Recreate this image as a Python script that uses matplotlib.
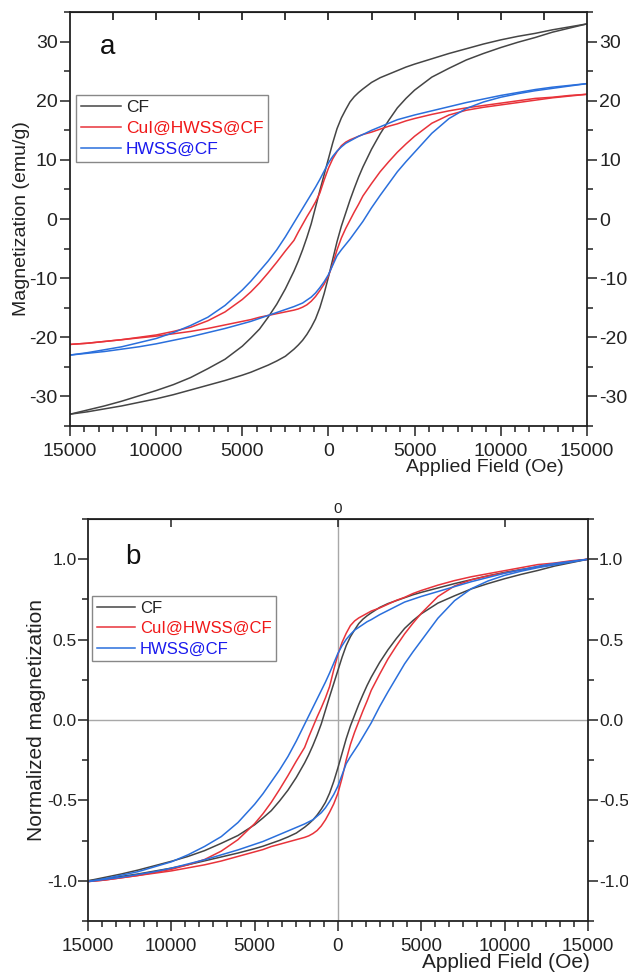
import numpy as np
import matplotlib
matplotlib.use("Agg")
import matplotlib.pyplot as plt
from matplotlib.ticker import AutoMinorLocator, MultipleLocator, FuncFormatter

plt.rcParams['font.family'] = ['Liberation Sans', 'DejaVu Sans']
plt.rcParams['axes.unicode_minus'] = False

# field sweep from +15 kOe down to -15 kOe, Oe
field_down = [15000, 14000, 13000, 12000, 11000, 10000, 9000, 8000, 7000, 6000, 5000,
              4500, 4000, 3500, 3000, 2500, 2000, 1750, 1500, 1250, 1000, 750, 500, 250, 0,
              -250, -500, -750, -1000, -1250, -1500, -1750, -2000, -2500, -3000, -3500, -4000, -4500,
              -5000, -6000, -7000, -8000, -9000, -10000, -11000, -12000, -13000, -14000, -15000]
# return sweep, -15 kOe up to +15 kOe
field_up = field_down[::-1]

# magnetization, emu/g
cf_down = [33.0, 32.5, 32.0, 31.4, 30.9, 30.3, 29.6, 28.8, 28.0, 27.1, 26.2,
           25.7, 25.1, 24.5, 23.9, 23.1, 22.0, 21.4, 20.7, 19.8, 18.5, 17.1, 15.3, 12.9, 10.2,
           7.5, 4.8, 2.0, -0.8, -3.1, -5.2, -7.1, -8.8, -11.8, -14.4, -16.6, -18.6, -20.1,
           -21.5, -23.7, -25.3, -26.8, -28.0, -29.0, -29.9, -30.8, -31.6, -32.3, -33.0]
cf_up = [-33.0, -32.6, -32.1, -31.6, -31.0, -30.4, -29.7, -28.9, -28.1, -27.3, -26.4,
         -25.9, -25.3, -24.7, -24.0, -23.2, -22.0, -21.3, -20.5, -19.5, -18.3, -16.9, -15.0, -12.6, -9.8,
         -6.8, -3.8, -1.2, 1.0, 3.2, 5.2, 7.1, 8.8, 11.8, 14.4, 16.7, 18.8, 20.4,
         21.8, 24.0, 25.5, 26.9, 28.0, 29.0, 29.9, 30.7, 31.6, 32.3, 33.0]

cui_down = [21.1, 20.9, 20.6, 20.4, 20.0, 19.6, 19.2, 18.8, 18.3, 17.7, 17.0,
            16.6, 16.1, 15.7, 15.2, 14.7, 14.3, 14.0, 13.7, 13.4, 13.0, 12.4, 11.4, 10.2, 8.6,
            6.6, 4.4, 2.9, 1.6, 0.4, -0.9, -2.2, -3.6, -5.4, -7.3, -9.1, -10.8, -12.3,
            -13.6, -15.7, -17.2, -18.3, -19.0, -19.6, -20.0, -20.4, -20.7, -21.0, -21.2]
cui_up = [-21.2, -21.0, -20.7, -20.4, -20.1, -19.8, -19.4, -19.0, -18.5, -17.9, -17.3,
          -17.0, -16.6, -16.3, -16.0, -15.7, -15.4, -15.2, -14.9, -14.5, -13.9, -13.1, -12.1, -11.0, -9.6,
          -7.6, -5.2, -3.2, -1.6, -0.2, 1.2, 2.5, 3.9, 6.0, 8.0, 9.7, 11.3, 12.7,
          14.0, 16.2, 17.6, 18.4, 18.9, 19.3, 19.7, 20.1, 20.5, 20.8, 21.1]

hwss_down = [22.9, 22.6, 22.3, 21.9, 21.4, 20.9, 20.3, 19.7, 19.0, 18.3, 17.6,
             17.2, 16.8, 16.2, 15.6, 15.0, 14.3, 14.0, 13.6, 13.2, 12.8, 12.2, 11.5, 10.6, 9.5,
             8.1, 6.7, 5.4, 4.2, 3.0, 1.8, 0.6, -0.6, -3.0, -5.2, -7.1, -8.8, -10.5,
             -12.0, -14.6, -16.6, -18.0, -19.2, -20.2, -20.9, -21.6, -22.1, -22.6, -23.0]
hwss_up = [-23.0, -22.7, -22.4, -22.0, -21.6, -21.1, -20.5, -19.9, -19.2, -18.5, -17.7,
           -17.3, -16.8, -16.3, -15.8, -15.3, -14.8, -14.5, -14.2, -13.7, -13.2, -12.5, -11.6, -10.6, -9.4,
           -7.8, -6.2, -5.2, -4.3, -3.4, -2.4, -1.4, -0.4, 1.9, 4.0, 6.0, 8.0, 9.7,
           11.3, 14.5, 17.0, 18.7, 19.8, 20.6, 21.2, 21.7, 22.1, 22.5, 22.9]

labels = ['CF', 'CuI@HWSS@CF', 'HWSS@CF']
line_colors = ['#454545', '#e8333a', '#2a6fdc']
text_colors = ['#222222', '#f01818', '#1a1aee']
loops = [(cf_down, cf_up), (cui_down, cui_up), (hwss_down, hwss_up)]

fig = plt.figure(figsize=(6.28, 9.74), dpi=100)


def style_axes(ax, minor_y, lsize):
    for s in ax.spines.values():
        s.set_linewidth(1.3)
        s.set_color('#222222')
    ax.set_xlim(-15000, 15000)
    ax.xaxis.set_major_locator(MultipleLocator(5000))
    ax.xaxis.set_minor_locator(AutoMinorLocator(6))
    ax.xaxis.set_major_formatter(FuncFormatter(lambda v, p: f"{abs(v):.0f}"))
    ax.yaxis.set_minor_locator(MultipleLocator(minor_y))
    ax.tick_params(which='both', direction='out', top=False, right=True, labelright=True,
                   width=1.1, colors='#222222', labelsize=lsize, labelcolor='#222222')
    ax.tick_params(which='major', length=7, pad=2)
    ax.tick_params(which='minor', length=4)
    ax.tick_params(axis='x', which='major', pad=5)


def add_legend(ax, anchor, size):
    leg = ax.legend(loc='upper left', bbox_to_anchor=anchor, borderaxespad=0, fontsize=size,
                    frameon=True, fancybox=False, edgecolor='#888888', framealpha=1,
                    handlelength=2.3, handletextpad=0.3, labelspacing=0.33, borderpad=0.28)
    leg.get_frame().set_linewidth(1.0)
    for t, c in zip(leg.get_texts(), text_colors):
        t.set_color(c)


# panel a
ax1 = fig.add_axes([0.1115, 0.5626, 0.823, 0.425])
for (down, up), lab, col in zip(loops, labels, line_colors):
    ax1.plot(field_down, down, color=col, lw=1.1, label=lab)
    ax1.plot(field_up, up, color=col, lw=1.1)
ax1.set_ylim(-35, 35)
ax1.yaxis.set_major_locator(MultipleLocator(10))
style_axes(ax1, 5, 14)
top1 = ax1.secondary_xaxis('top')
top1.set_xticks(np.arange(-12500, 12501, 2500))
top1.tick_params(direction='in', length=6, width=1.1, labeltop=False)
ax1.set_ylabel('Magnetization (emu/g)', fontsize=14, color='#222222')
ax1.yaxis.set_label_coords(-0.077, 0.5)
ax1.set_xlabel('Applied Field (Oe)', fontsize=14, color='#222222', va='top')
ax1.xaxis.set_label_coords(0.803, -0.08)
ax1.text(0.0735, 0.915, 'a', transform=ax1.transAxes, fontsize=20, color='#111111', ha='center', va='center')
add_legend(ax1, (0.0116, 0.80), 12.5)

# panel b: loops divided by their value at +15 kOe
ax2 = fig.add_axes([0.1401, 0.0544, 0.796, 0.4127])
ax2.axhline(0, color='#a8a8a8', lw=1.0, zorder=0)
ax2.axvline(0, color='#a8a8a8', lw=1.0, zorder=0)
for (down, up), lab, col in zip(loops, labels, line_colors):
    ms = down[0]
    ax2.plot(field_down, np.array(down) / ms, color=col, lw=1.1, label=lab)
    ax2.plot(field_up, np.array(up) / ms, color=col, lw=1.1)
ax2.set_ylim(-1.25, 1.25)
ax2.yaxis.set_major_locator(MultipleLocator(0.5))
ax2.yaxis.set_major_formatter(FuncFormatter(lambda v, p: f"{v:.1f}"))
style_axes(ax2, 0.25, 13.5)
ax2.tick_params(axis='y', which='major', labelsize=12.5, pad=1)
top2 = ax2.secondary_xaxis('top')
top2.set_xticks([-10000, 0, 10000], labels=['', '0', ''])
top2.tick_params(direction='in', length=6, width=1.1, labelsize=11, pad=2, colors='#222222')
ax2.set_ylabel('Normalized magnetization', fontsize=15, color='#222222')
ax2.yaxis.set_label_coords(-0.084, 0.5)
ax2.set_xlabel('Applied Field (Oe)', fontsize=15, color='#222222', va='top')
ax2.xaxis.set_label_coords(0.837, -0.08)
ax2.text(0.09, 0.905, 'b', transform=ax2.transAxes, fontsize=20, color='#111111', ha='center', va='center')
add_legend(ax2, (0.008, 0.8085), 12)

fig.savefig('out.png', dpi=100)
